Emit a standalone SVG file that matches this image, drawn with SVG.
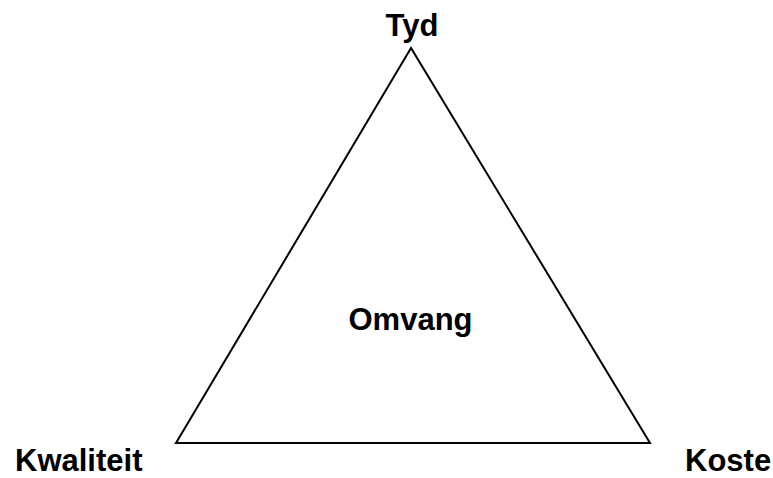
<svg xmlns="http://www.w3.org/2000/svg" width="773" height="478" viewBox="0 0 773 478">
<style>
text{font-family:"Liberation Sans",Arial,sans-serif;font-weight:bold;font-size:31px;fill:#000}
.edge{fill:none;stroke:#000;stroke-width:2}
</style>
<rect width="773" height="478" fill="#fff"/>
<g id="connectors">
<polygon class="edge" points="411,48 176,443 650,443"/>
</g>
<g id="tyd"><text x="412" y="36" text-anchor="middle">Tyd</text></g>
<g id="omvang"><text x="410.5" y="330" text-anchor="middle">Omvang</text></g>
<g id="kwaliteit"><text x="15" y="471">Kwaliteit</text></g>
<g id="koste"><text x="685" y="471">Koste</text></g>
</svg>
